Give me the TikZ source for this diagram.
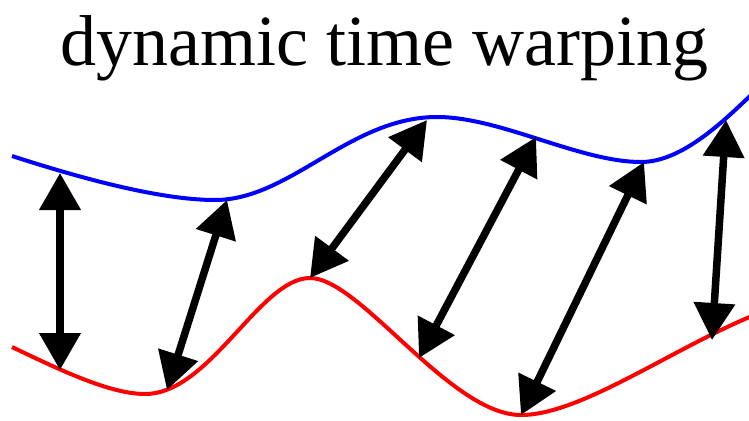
\documentclass[tikz,border=0pt]{standalone}
\usepackage{fontspec}
\setmainfont{Liberation Serif}
\usetikzlibrary{arrows.meta}
\tikzset{
  series/.style={line width=4pt},
  warp/.style={line width=7.5pt, {Triangle[width=40pt,length=37pt]}-{Triangle[width=40pt,length=37pt]}},
  title/.style={font=\fontsize{72}{80}\selectfont, anchor=base, inner sep=0pt}
}
\begin{document}
\begin{tikzpicture}[x=1pt,y=-1pt]
\useasboundingbox (0,0) rectangle (749,420);
\node[title] (t) at (384,66) {dynamic time warping};
% blue series
\draw[series, blue] (12,156) .. controls (80,178) and (160,200) .. (215,200)
  .. controls (290,200) and (350,117) .. (437,117)
  .. controls (500,117) and (580,162) .. (641,162)
  .. controls (680,162) and (720,125) .. (752,94);
% red series
\draw[series, red] (12,347) .. controls (60,370) and (110,394) .. (145,394)
  .. controls (210,394) and (260,278) .. (310,278)
  .. controls (360,278) and (450,415) .. (521,415)
  .. controls (580,415) and (670,350) .. (752,316);
% endpoints
\coordinate (b1) at (60,173);  \coordinate (r1) at (60,370);
\coordinate (b2) at (227,200); \coordinate (r2) at (167,390);
\coordinate (b3) at (427,120); \coordinate (r3) at (310,278);
\coordinate (b4) at (536,137); \coordinate (r4) at (419,358);
\coordinate (b5) at (644,162); \coordinate (r5) at (521,415);
\coordinate (b6) at (726,120); \coordinate (r6) at (712,340);
\foreach \i in {1,...,6} \draw[warp] (b\i) -- (r\i);
\end{tikzpicture}
\end{document}
